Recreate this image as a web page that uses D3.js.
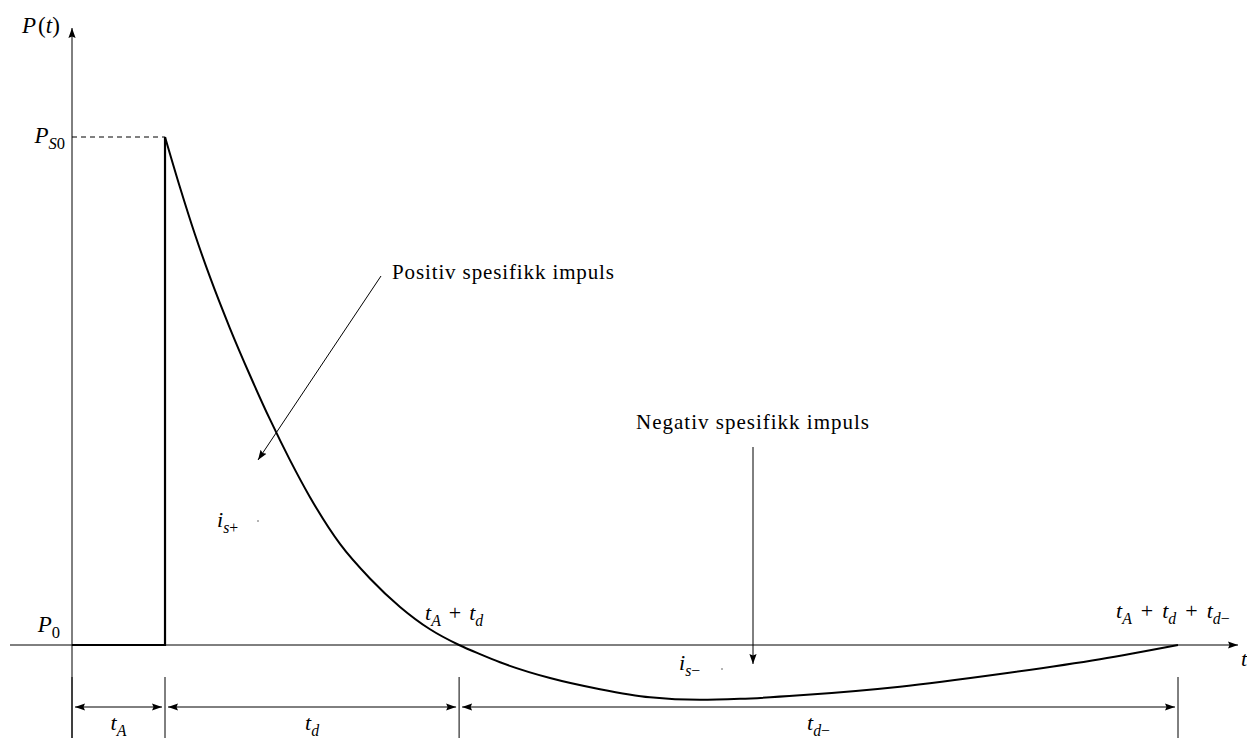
<!DOCTYPE html>
<html><head><meta charset="utf-8">
<script src="https://cdn.jsdelivr.net/npm/d3@7"></script>
<style>
body{margin:0;background:#fff}
svg{display:block}
text{font-family:"Liberation Serif","DejaVu Serif",serif;fill:#000}
</style></head>
<body><svg id="c" width="1247" height="738"></svg>
<script>
// ---- data (time in % of total duration, pressure normalised: P0 = 0, PS0 = 1)
const times     = [8.41, 9.76, 11.12, 12.48, 14.29, 16.09, 17.90, 19.71, 21.52, 24.23, 26.94, 29.66, 32.37, 35.0, 36.89, 38.70, 43.22, 47.74, 52.26, 56.78, 60.40, 65.82, 74.86, 83.91, 92.95, 100];
const pressures = [1.0, 0.901, 0.808, 0.724, 0.623, 0.531, 0.444, 0.364, 0.291, 0.199, 0.131, 0.075, 0.031, 0.0, -0.018, -0.034, -0.065, -0.087, -0.103, -0.108, -0.106, -0.099, -0.082, -0.057, -0.028, 0.0];
const phaseTimes = [0, 8.41, 35, 100];          // 0, tA, tA+td, tA+td+td-
const pressureLevels = {P0: 0, PS0: 1};
const spanLabels = [
  [{t:"t",i:1},{t:"A",i:1,s:1}],
  [{t:"t",i:1},{t:"d",i:1,s:1}],
  [{t:"t",i:1},{t:"d",i:1,s:1},{t:"−",s:1}]
];
const annotations = ["Positiv spesifikk impuls", "Negativ spesifikk impuls"];

const svg = d3.select("#c");
const W = 1247, H = 738;
const x = d3.scaleLinear().domain([0, 100]).range([72, 1178]);
const y = d3.scaleLinear().domain([0, 1]).range([645, 137]);

// arrow marker
const defs = svg.append("defs");
defs.append("marker").attr("id","ah").attr("viewBox","0 -5 10 10")
  .attr("refX",10).attr("refY",0).attr("markerWidth",10).attr("markerHeight",10)
  .attr("markerUnits","userSpaceOnUse").attr("orient","auto-start-reverse")
  .append("path").attr("d","M0,-3.6L10,0L0,3.6L1.5,0Z").attr("fill","#000");

// math text helper
function mtext(px, py, parts, size, anchor){
  const t = svg.append("text").attr("x",px).attr("y",py).attr("font-size",size)
    .attr("text-anchor",anchor||"start");
  let sub = false;
  parts.forEach(p=>{
    const ts = t.append("tspan").text(p.t);
    if (p.i) ts.attr("font-style","italic");
    if (p.s && !sub){ ts.attr("dy", size*0.25); sub = true; }
    else if (!p.s && sub){ ts.attr("dy", -size*0.25); sub = false; }
    if (p.s) ts.attr("font-size", size*0.72);
    if (p.sp) ts.attr("dx", p.sp);
  });
  return t;
}

// axes
svg.append("line").attr("x1",10).attr("x2",1238).attr("y1",y(0)).attr("y2",y(0))
  .attr("stroke","#000").attr("stroke-width",1).attr("marker-end","url(#ah)");
svg.append("line").attr("x1",x(0)).attr("x2",x(0)).attr("y1",H).attr("y2",28)
  .attr("stroke","#000").attr("stroke-width",1).attr("marker-end","url(#ah)");

// dashed PS0 line
svg.append("line").attr("x1",x(0)).attr("x2",x(phaseTimes[1])).attr("y1",y(pressureLevels.PS0)).attr("y2",y(pressureLevels.PS0))
  .attr("stroke","#000").attr("stroke-width",1).attr("stroke-dasharray","5,4");

// rise part
svg.append("path").attr("d", d3.line().x(d=>x(d[0])).y(d=>y(d[1]))([[phaseTimes[0],0],[phaseTimes[1],0],[phaseTimes[1],pressureLevels.PS0]]))
  .attr("fill","none").attr("stroke","#000").attr("stroke-width",2.2);

// decay curve
const pts = times.map((t,i)=>[t, pressures[i]]);
svg.append("path").attr("d", d3.line().x(d=>x(d[0])).y(d=>y(d[1])).curve(d3.curveMonotoneX)(pts))
  .attr("fill","none").attr("stroke","#000").attr("stroke-width",2);

// dimension ticks and arrows
const dimY = 707;
phaseTimes.forEach(t=>{
  svg.append("line").attr("x1",x(t)).attr("x2",x(t)).attr("y1",677).attr("y2",H)
    .attr("stroke","#000").attr("stroke-width",1);
});
for (let i=0;i<phaseTimes.length-1;i++){
  const a = x(phaseTimes[i]), b = x(phaseTimes[i+1]);
  svg.append("line").attr("x1",a+3).attr("x2",b-3).attr("y1",dimY).attr("y2",dimY)
    .attr("stroke","#000").attr("stroke-width",1)
    .attr("marker-start","url(#ah)").attr("marker-end","url(#ah)");
  mtext((a+b)/2, 730, spanLabels[i], 22, "middle");
}

// axis labels
mtext(22, 33, [{t:"P",i:1},{t:"(",sp:2},{t:"t",i:1},{t:")"}], 23);
mtext(65, 143, [{t:"P",i:1},{t:"S",i:1,s:1},{t:"0",s:1}], 23, "end");
mtext(60, 632, [{t:"P",i:1},{t:"0",s:1}], 23, "end");
mtext(1241, 666, [{t:"t",i:1}], 22);
mtext(425, 620, [{t:"t",i:1},{t:"A",i:1,s:1},{t:"+",sp:8},{t:"t",i:1,sp:8},{t:"d",i:1,s:1}], 22);
mtext(1116, 618, [{t:"t",i:1},{t:"A",i:1,s:1},{t:"+",sp:9},{t:"t",i:1,sp:9},{t:"d",i:1,s:1},{t:"+",sp:9},{t:"t",i:1,sp:9},{t:"d",i:1,s:1},{t:"−",s:1}], 22);

// impulse labels
mtext(217, 527, [{t:"i",i:1},{t:"s",i:1,s:1},{t:"+",s:1}], 22);
mtext(679, 670, [{t:"i",i:1},{t:"s",i:1,s:1},{t:"−",s:1}], 22);
svg.append("circle").attr("cx",258).attr("cy",521).attr("r",0.8).attr("fill","#555");
svg.append("circle").attr("cx",722).attr("cy",669).attr("r",0.8).attr("fill","#555");

// annotations
svg.append("text").attr("x",392).attr("y",279).attr("font-size",21)
  .attr("textLength",222).attr("lengthAdjust","spacing").text(annotations[0]);
svg.append("line").attr("x1",381).attr("y1",276).attr("x2",258).attr("y2",460)
  .attr("stroke","#000").attr("stroke-width",1).attr("marker-end","url(#ah)");
svg.append("text").attr("x",636).attr("y",429).attr("font-size",21)
  .attr("textLength",233).attr("lengthAdjust","spacing").text(annotations[1]);
svg.append("line").attr("x1",753).attr("y1",447).attr("x2",753).attr("y2",664)
  .attr("stroke","#000").attr("stroke-width",1).attr("marker-end","url(#ah)");
</script>
</body></html>
